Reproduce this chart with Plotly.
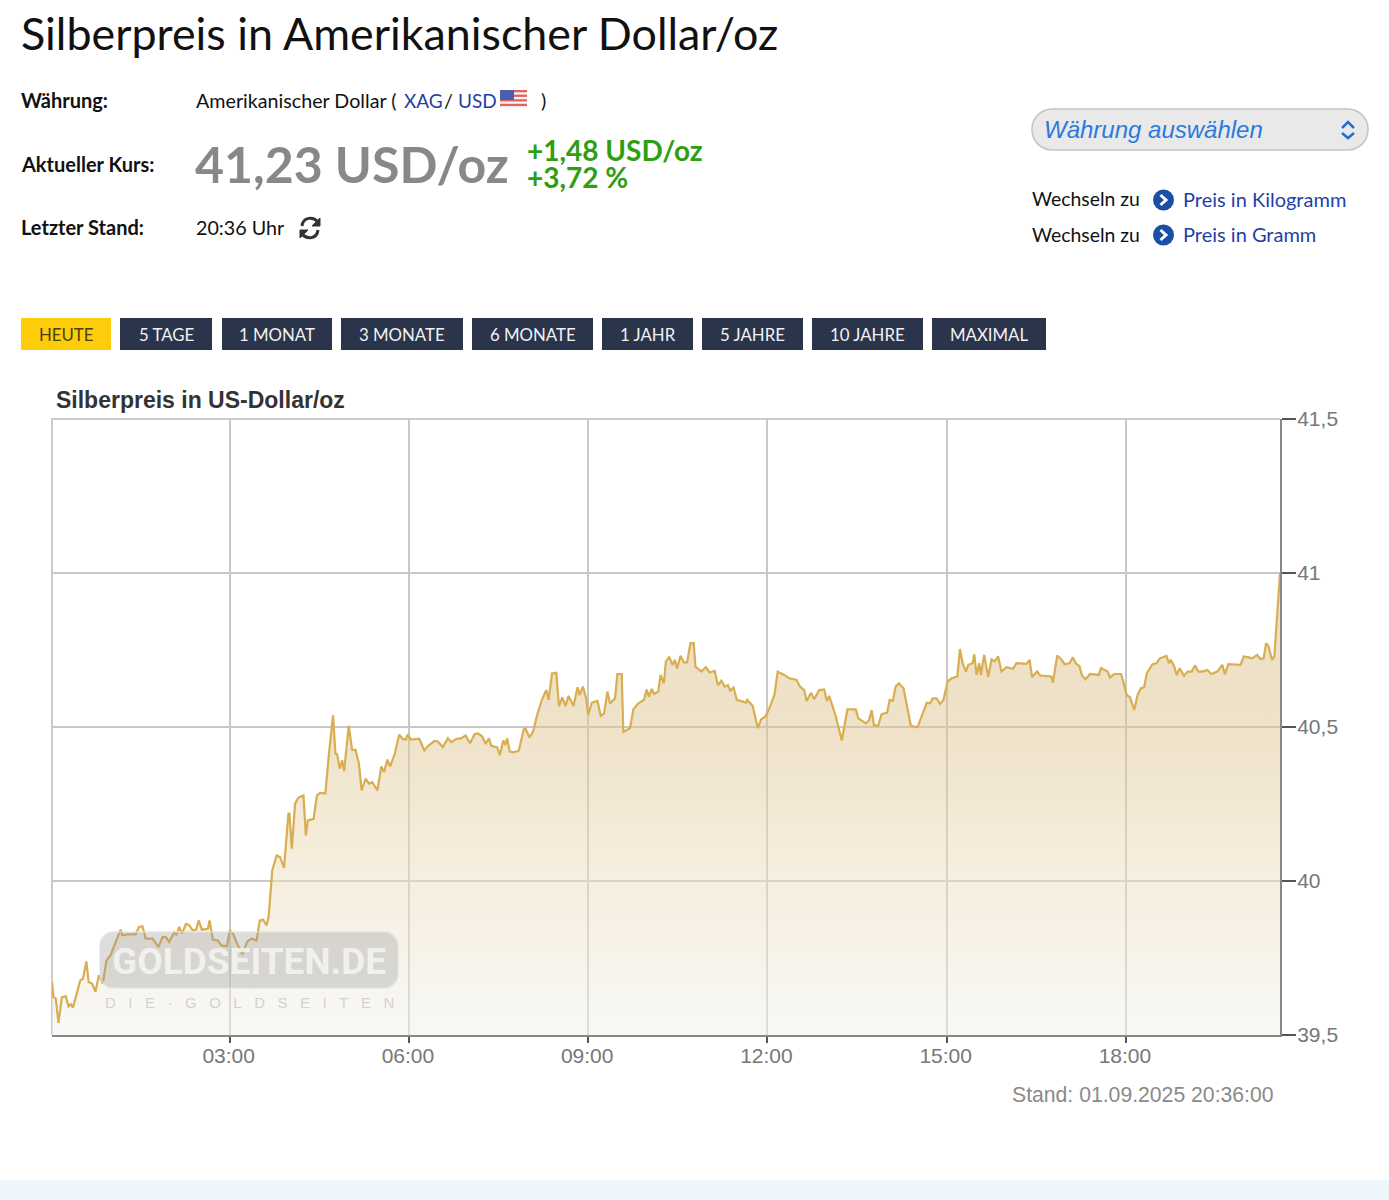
import plotly.graph_objects as go

W, H = 1389, 1200

minutes = [1.6,3.1,5.4,8.1,11.5,15.5,18.2,20.6,22.6,30.0,32.7,36.1,38.4,41.8,45.2,48.6,52.6,56.3,60.4,65.4,70.5,72.1,78.9,85.6,89.0,92.4,95.7,102.5,108.5,112.6,116.0,119.3,124.4,126.7,129.4,132.1,136.2,139.6,142.9,146.3,149.0,152.0,158.1,159.8,163.1,168.2,171.6,177.3,180,183.4,186.7,192.8,197.5,201.9,207.0,210.3,213.7,217.1,219.1,222.8,227.2,230.6,234.6,239.0,240.0,242.4,245.7,249.1,254.1,256.5,258.5,264.3,267.6,271.0,276.1,279.4,283.8,286.2,287.9,290.5,292.9,294.9,299.6,303.0,306.4,309.8,312.5,316.5,319.9,323.2,328.3,332.3,335.0,338.4,341.1,345.8,350.2,353.6,356.9,358.6,362.0,370.4,375.5,378.9,385.6,389.0,394.0,399.1,402.4,407.5,
412,417,421.3,426,429.3,433.7,437,440.3,442.7,448.7,451.3,454.7,457,458.7,461.3,465.3,470.3,475.3,477,481,484.7,488.7,493.7,498,500.3,503.7,508,510.7,514,517.3,520.3,525.3,529.3,531.3,534.7,538,540,543.7,549.3,552.7,556,559.3,562,567,569.3,573.7,575.3,582,585.3,590.3,596,598.7,601,603.7,606.3,610.3,612.7,616,618,621.3,624.7,627,629.3,632.7,636,639.3,642.7,646,647.7,653.7,658,662,667,670.3,673.7,677,680.3,682.7,686,689.3,698.7,699.7,705.3,710.3,713.7,718,722,727,730.3,737,742,749.3,752.7,757,759.3,763.7,767,772,777,779.7,782,788.7,794.7,800.3,808.7,811.3,818.7,822,824.7,827,831.3,834.7,840.3,842.7,846,848.7,852,
856.7,860,864,870.7,875,880,883.3,886,890,893.3,896.7,901,905,910.7,913.3,916,919.3,921.7,926,927.7,930,932.7,934.3,937.7,941.7,945,948.3,951.7,955,960,966.7,970,980,983.3,985.7,990.7,994,1005,1006.7,1011,1015,1018.3,1023.3,1026.7,1030,1033.3,1035.7,1039.3,1044,1052.7,1055,1061.7,1064,1068.3,1075,1077.3,1080.7,1084,1088.3,1091.7,1095,1098.3,1101,1106.7,1110.7,1114,1120.7,1123.3,1125,1128.3,1131,1134,1138.3,1141.7,1146,1149.3,1152.7,1156.7,1161.7,1165.7,1171.7,1176.7,1179.3,1182.7,1195,1198.3,1203.3,1206.7,1211.7,1215,1218.3,1220.7,1223.3,1226.7,1229,1234.7]

prices = [39.672,39.623,39.618,39.539,39.623,39.626,39.593,39.600,39.589,39.677,39.683,39.739,39.672,39.667,39.640,39.694,39.667,39.742,39.759,39.802,39.842,39.824,39.827,39.827,39.851,39.853,39.813,39.813,39.786,39.818,39.818,39.802,39.834,39.824,39.851,39.829,39.861,39.856,39.840,39.842,39.872,39.842,39.845,39.872,39.810,39.807,39.791,39.788,39.840,39.829,39.802,39.762,39.802,39.813,39.807,39.872,39.874,39.856,39.883,40.035,40.083,40.078,40.043,40.219,40.219,40.105,40.251,40.271,40.278,40.148,40.197,40.202,40.278,40.286,40.284,40.403,40.539,40.413,40.411,40.365,40.392,40.357,40.504,40.426,40.426,40.381,40.294,40.332,40.316,40.321,40.294,40.372,40.354,40.394,40.372,40.413,40.475,40.462,40.459,40.475,40.459,40.462,40.424,40.437,40.455,40.453,40.435,40.464,40.451,40.461,
40.463,40.472,40.447,40.477,40.479,40.469,40.445,40.463,40.439,40.434,40.409,40.456,40.442,40.463,40.420,40.418,40.423,40.492,40.496,40.466,40.485,40.539,40.590,40.620,40.588,40.674,40.676,40.568,40.596,40.568,40.601,40.568,40.629,40.604,40.631,40.593,40.539,40.579,40.585,40.536,40.544,40.615,40.577,40.593,40.672,40.672,40.485,40.496,40.557,40.577,40.588,40.622,40.598,40.623,40.607,40.615,40.669,40.642,40.712,40.728,40.701,40.718,40.690,40.731,40.710,40.710,40.772,40.772,40.696,40.680,40.694,40.677,40.682,40.636,40.650,40.631,40.636,40.618,40.628,40.588,40.579,40.588,40.568,40.496,40.525,40.534,40.561,40.604,40.680,40.669,40.658,40.653,40.631,40.620,40.584,40.611,40.590,40.620,40.622,40.584,40.601,40.534,40.456,40.557,40.557,40.528,40.512,40.521,40.555,40.505,40.505,40.542,40.547,40.588,40.585,40.631,40.642,
40.626,40.566,40.504,40.499,40.534,40.579,40.577,40.593,40.593,40.575,40.588,40.648,40.658,40.664,40.753,40.707,40.680,40.702,40.707,40.736,40.669,40.707,40.669,40.734,40.662,40.720,40.713,40.729,40.680,40.694,40.689,40.707,40.705,40.718,40.662,40.680,40.667,40.664,40.644,40.732,40.720,40.704,40.707,40.726,40.705,40.698,40.669,40.655,40.672,40.669,40.691,40.680,40.661,40.672,40.672,40.648,40.604,40.597,40.555,40.604,40.626,40.629,40.675,40.704,40.707,40.723,40.731,40.707,40.718,40.698,40.669,40.691,40.666,40.680,40.680,40.700,40.680,40.680,40.685,40.672,40.680,40.702,40.671,40.704,40.702,40.729,40.726,40.723,40.734,40.721,40.723,40.772,40.761,40.718,40.729,41.0]

x_tick_vals = [180, 360, 540, 720, 900, 1080]
x_tick_text = ["03:00", "06:00", "09:00", "12:00", "15:00", "18:00"]
y_tick_vals = [39.5, 40, 40.5, 41, 41.5]
y_tick_text = ["39,5", "40", "40,5", "41", "41,5"]
buttons = ["HEUTE", "5 TAGE", "1 MONAT", "3 MONATE", "6 MONATE", "1 JAHR", "5 JAHRE", "10 JAHRE", "MAXIMAL"]

BODY = "Lato"
SANS = "Liberation Sans"
px = lambda x: x / W
py = lambda y: 1 - y / H

annotations = []
shapes = []


def txt(s, x, y, size, color="#111", family=BODY, anchor="left"):
    annotations.append(dict(text=s, x=px(x), y=py(y), xref="paper", yref="paper", showarrow=False,
                            xanchor=anchor, yanchor="middle", align=anchor,
                            font=dict(size=size, color=color, family=family), borderpad=0))


def rect(x0, y0, x1, y1, fill, line=None, layer="above"):
    shapes.append(dict(type="rect", xref="paper", yref="paper", x0=px(x0), x1=px(x1), y0=py(y0), y1=py(y1),
                       fillcolor=fill, line=dict(width=0 if line is None else 1.5, color=line or fill), layer=layer))


def poly(points, color, width, close=False, fill=None, layer="above"):
    d = "M" + " L".join(f"{px(a):.5f},{py(b):.5f}" for a, b in points) + (" Z" if close else "")
    shapes.append(dict(type="path", xref="paper", yref="paper", path=d, line=dict(color=color, width=width),
                       fillcolor=fill, layer=layer))


def curve(a, c1, c2, b, color, width):
    f = lambda p: f"{px(p[0]):.5f},{py(p[1]):.5f}"
    shapes.append(dict(type="path", xref="paper", yref="paper", path=f"M{f(a)} C{f(c1)} {f(c2)} {f(b)}",
                       line=dict(color=color, width=width)))


def rounded(x0, y0, x1, y1, r, fill, line, layer="above"):
    c = 0.45 * r
    pts = (f"M{px(x0+r):.5f},{py(y0):.5f} L{px(x1-r):.5f},{py(y0):.5f} "
           f"C{px(x1-c):.5f},{py(y0):.5f} {px(x1):.5f},{py(y0+c):.5f} {px(x1):.5f},{py(y0+r):.5f} "
           f"L{px(x1):.5f},{py(y1-r):.5f} "
           f"C{px(x1):.5f},{py(y1-c):.5f} {px(x1-c):.5f},{py(y1):.5f} {px(x1-r):.5f},{py(y1):.5f} "
           f"L{px(x0+r):.5f},{py(y1):.5f} "
           f"C{px(x0+c):.5f},{py(y1):.5f} {px(x0):.5f},{py(y1-c):.5f} {px(x0):.5f},{py(y1-r):.5f} "
           f"L{px(x0):.5f},{py(y0+r):.5f} "
           f"C{px(x0):.5f},{py(y0+c):.5f} {px(x0+c):.5f},{py(y0):.5f} {px(x0+r):.5f},{py(y0):.5f} Z")
    shapes.append(dict(type="path", xref="paper", yref="paper", path=pts, fillcolor=fill,
                       line=dict(color=line, width=1.5), layer=layer))


# Header
txt("Silberpreis in Amerikanischer Dollar/oz", 20, 33, 44.8, "#111", "Lato")
txt("<b>Währung:</b>", 20, 100, 20)
txt("<b>Aktueller Kurs:</b>", 20, 164, 20)
txt("<b>Letzter Stand:</b>", 20, 227, 20)
txt("Amerikanischer Dollar (", 195, 100, 19.7)
txt("XAG", 403, 100, 19)
txt("/", 443, 100, 19.7)
txt("USD", 457, 100, 19, "#1F3FA8")
txt(")", 540, 100, 19.7)
annotations[5]["font"]["color"] = "#1F3FA8"
txt("<b>41,23 USD/oz</b>", 194, 164, 50, "#888888", "Lato")
txt("<b>+1,48 USD/oz</b>", 526, 150, 28, "#2F9E12", "Lato")
txt("<b>+3,72 %</b>", 526, 177, 28, "#2F9E12", "Lato")
txt("20:36 Uhr", 195, 227, 19.7)

# Refresh icon
curve((302, 226), (303, 217), (313, 216), (318, 222), "#333333", 3)
poly([(320, 218), (320, 226), (312, 226)], "#333333", 1, close=True, fill="#333333")
curve((318, 230), (317, 239), (307, 240), (302, 234), "#333333", 3)
poly([(300, 238), (300, 230), (308, 230)], "#333333", 1, close=True, fill="#333333")

# US flag
rect(500, 90, 527, 108, "#F4F4F4")
for k in range(4):
    rect(500, 90 + k * 4.6, 527, 92.3 + k * 4.6, "#E0645F")
rect(500, 90, 514, 100, "#4A5FB0")

# Selector
rounded(1032, 109, 1368, 150, 20, "#E9E9E9", "#C4C4C4")
txt("<i>Währung auswählen</i>", 1043, 129, 24, "#2A7ADE", SANS)
poly([(1342, 128), (1348, 122), (1354, 128)], "#1F6FD8", 2.5)
poly([(1342, 133), (1348, 138), (1354, 133)], "#1F6FD8", 2.5)
for y, link in ((200, "Preis in Kilogramm"), (235, "Preis in Gramm")):
    txt("Wechseln zu", 1031, y - 1, 19.4)
    shapes.append(dict(type="circle", xref="paper", yref="paper", x0=px(1153), x1=px(1174), y0=py(y - 10.5), y1=py(y + 10.5),
                       fillcolor="#1A4FA5", line=dict(width=0)))
    poly([(1160.5, y - 5), (1166, y), (1160.5, y + 5)], "white", 3)
    txt(link, 1182, y - 1, 20, "#1F3FA8")

# Range buttons
button_edges = [(21, 111), (120, 212), (222, 332), (341, 463), (472, 593), (602, 693), (702, 803), (812, 923), (932, 1046)]
for i, (label, (a, b)) in enumerate(zip(buttons, button_edges)):
    rect(a, 318, b, 350, "#FFCC0B" if i == 0 else "#2A344B")
    txt(label, (a + b) / 2, 334, 16.8, "#4A3F10" if i == 0 else "#F2F2F2", BODY, "center")

# Chart frame and labels
txt("<b>Silberpreis in US-Dollar/oz</b>", 55, 400, 23, "#333333", SANS)
txt("Stand: 01.09.2025 20:36:00", 1275, 1094, 21.2, "#8A8A8A", SANS, "right")
poly([(52, 1035), (52, 419), (1280, 419)], "#CCCCCC", 2, layer="below")
rect(0, 1180, W, H, "#EEF6FC")

# Watermark
rounded(100, 932, 398, 988, 14, "rgba(150,150,150,0.32)", "rgba(225,225,225,0.8)")
txt("<b>GOLDSEITEN.DE</b>", 249, 961, 37, "rgba(245,245,245,0.85)", "Roboto", "center")
txt("\u00a0\u00a0\u00a0".join("DIE·GOLDSEITEN"), 249, 1002, 15, "rgba(200,200,200,0.8)", SANS, "center")

fig = go.Figure(go.Scatter(
    x=minutes, y=prices, mode="lines", line=dict(color="#D9AE50", width=2.2),
    fill="tozeroy", hoverinfo="skip",
    fillgradient=dict(type="vertical", start=40.8, stop=39.5,
                      colorscale=[[0, "rgba(220,193,140,0.5)"], [0.25, "rgba(223,198,148,0.5)"],
                                  [0.6, "rgba(238,222,190,0.5)"], [1, "rgba(241,241,237,0.5)"]]),
))
fig.update_layout(
    width=W, height=H, autosize=False, margin=dict(l=0, r=0, t=0, b=0, autoexpand=False),
    paper_bgcolor="white", plot_bgcolor="white", showlegend=False,
    annotations=annotations, shapes=shapes,
    xaxis=dict(domain=[px(52), px(1280)], range=[1.6, 1234.7], tickmode="array", tickvals=x_tick_vals,
               ticktext=x_tick_text, ticks="outside", ticklen=6, tickwidth=2, tickcolor="#555555",
               tickfont=dict(family=SANS, size=21, color="#777777"), showgrid=True, gridcolor="#C8C8C8",
               gridwidth=2, showline=True, linecolor="#888888", linewidth=2, zeroline=False, ticklabelstandoff=-5,
               ticklabelshift=-1),
    yaxis=dict(domain=[py(1035), py(419)], range=[39.5, 41.5], side="right", tickmode="array", tickvals=y_tick_vals,
               ticktext=y_tick_text, ticks="outside", ticklen=14, tickwidth=2, tickcolor="#555555",
               tickfont=dict(family=SANS, size=21, color="#777777"), showgrid=True, gridcolor="#C8C8C8",
               gridwidth=2, showline=True, linecolor="#888888", linewidth=2, zeroline=False, ticklabelstandoff=-3),
)
fig.write_html("out.html", config={"displayModeBar": False},
               post_script="document.body.style.margin='0';document.body.style.overflow='hidden';")
